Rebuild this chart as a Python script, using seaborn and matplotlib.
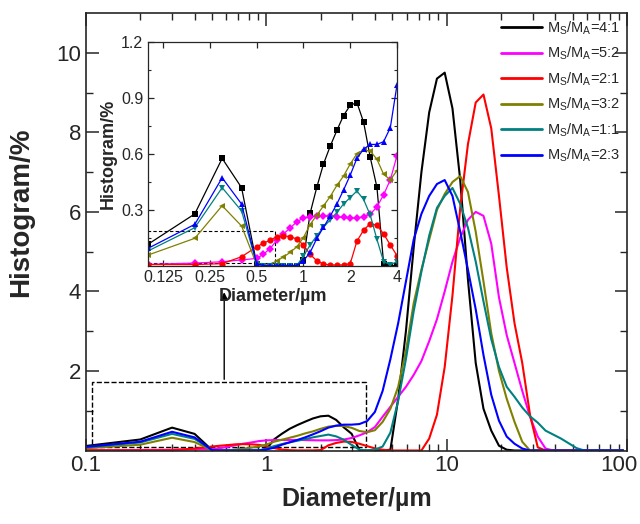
import numpy as np
import pandas as pd
import matplotlib
matplotlib.use("Agg")
import matplotlib.pyplot as plt
import matplotlib.transforms as mtransforms
import seaborn as sns
from matplotlib.patches import Rectangle
from matplotlib.lines import Line2D
from matplotlib.ticker import FixedLocator, FixedFormatter, NullFormatter, NullLocator

# ---------------- data ----------------
diameter = [0.1, 0.2, 0.3, 0.4, 0.5, 0.552, 0.609, 0.673, 0.743, 0.820, 0.906,
            1.0, 1.104, 1.219, 1.346, 1.486, 1.641, 1.811, 2.0, 2.208, 2.438,
            2.692, 2.972, 3.281, 3.623, 4.0, 4.416, 4.876, 5.383, 5.944, 6.562,
            7.245, 8.0, 8.833, 9.752, 10.77, 11.89, 13.12, 14.49, 16.0, 17.67,
            19.50, 21.53, 23.78, 26.25, 28.98, 32.0, 35.33, 39.01, 43.07, 47.56,
            52.51, 57.97, 64.0, 70.66, 78.02, 86.14, 95.1]

ratio_labels = ["4:1", "5:2", "2:1", "3:2", "1:1", "2:3"]

hist_4_1 = [0.114, 0.277, 0.575, 0.418,
            0.01, 0, 0, 0, 0, 0, 0,
            0.03, 0.28, 0.42, 0.545, 0.64, 0.725, 0.805, 0.86, 0.875, 0.77,
            0.58, 0.42, 0.01, 0.0, 0.0,
            0, 0.02, 1.3, 3.0, 5.1, 7.0, 8.5, 9.35, 9.5, 8.6, 6.8, 4.3, 2.2,
            1.05, 0.5, 0.12, 0.02, 0,
            0, 0, 0, 0, 0, 0, 0, 0, 0, 0, 0, 0, 0, 0]

hist_5_2 = [0.006, 0.013, 0.02, 0.03,
            0.038, 0.06, 0.09, 0.135, 0.17, 0.2, 0.235,
            0.255, 0.262, 0.265, 0.265, 0.265, 0.262, 0.258, 0.255, 0.255, 0.262,
            0.275, 0.315, 0.38, 0.46, 0.59,
            0.85, 1.1, 1.35, 1.6, 1.9, 2.25, 2.75, 3.3, 4.0, 4.75, 5.35, 5.8, 6.0,
            5.9, 5.2, 3.85, 2.9, 2.2, 1.5, 0.85, 0.35, 0.05, 0,
            0, 0, 0, 0, 0, 0, 0, 0, 0]

hist_2_1 = [0.005, 0.005, 0.01, 0.047,
            0.10, 0.12, 0.135, 0.155, 0.16, 0.155, 0.142,
            0.11, 0.06, 0.025, 0.008, 0.003, 0.003, 0.003, 0.01, 0.13, 0.19,
            0.225, 0.215, 0.17, 0.11, 0.053,
            0.02, 0, 0, 0, 0, 0, 0.3, 0.9, 2.1, 3.9, 6.1, 7.7, 8.75,
            8.95, 8.1, 6.4, 4.6, 3.2, 2.2, 0.9, 0.08, 0,
            0, 0, 0, 0, 0, 0, 0, 0, 0, 0]

hist_3_2 = [0.056, 0.146, 0.321, 0.212,
            0.005, 0.0, 0.005, 0.025, 0.045, 0.07, 0.10,
            0.15, 0.22, 0.27, 0.32, 0.37, 0.43, 0.48, 0.545, 0.60, 0.62,
            0.615, 0.57, 0.49, 0.46, 0.51,
            0.72, 1.05, 1.6, 2.5, 3.7, 4.55, 5.3, 6.05, 6.45, 6.75, 6.9, 6.5, 5.5,
            4.25, 2.95, 2.0, 1.3, 0.72, 0.22, 0.0,
            0, 0, 0, 0, 0, 0, 0, 0, 0, 0, 0, 0]

hist_1_1 = [0.078, 0.203, 0.418, 0.293,
            0.01, 0, 0, 0, 0, 0, 0.0,
            0.05, 0.11, 0.16, 0.205, 0.245, 0.285, 0.33, 0.365, 0.40, 0.355,
            0.27, 0.14, 0.02, 0.005, 0.02,
            0.1, 0.45, 1.25, 2.3, 3.5, 4.5, 5.4, 6.1, 6.4, 6.6, 6.2, 5.6, 4.75,
            3.75, 2.8, 2.1, 1.6, 1.35, 1.08, 0.86, 0.7, 0.5, 0.4, 0.3, 0.18,
            0.06, 0.0, 0, 0, 0, 0, 0]

hist_2_3 = [0.092, 0.221, 0.471, 0.33,
            0.01, 0, 0, 0, 0, 0, 0,
            0.025, 0.07, 0.145, 0.205, 0.265, 0.33, 0.405, 0.485, 0.575, 0.625,
            0.65, 0.65, 0.665, 0.74, 0.97,
            1.5, 2.3, 3.2, 4.25, 5.3, 5.95, 6.4, 6.7, 6.8, 6.4, 5.5, 4.55, 3.55,
            2.4, 1.4, 0.75, 0.35, 0.17, 0.05, 0,
            0, 0, 0, 0, 0, 0, 0, 0, 0, 0, 0, 0]

series = [hist_4_1, hist_5_2, hist_2_1, hist_3_2, hist_1_1, hist_2_3]
colors = ["#000000", "#FF00FF", "#FF0000", "#808000", "#008080", "#0000FF"]
marker_list = ["s", "D", "o", "<", "v", "^"]

# ---------------- style ----------------
sns.set_style("ticks")
plt.rcParams["font.family"] = ["Liberation Sans", "DejaVu Sans"]
plt.rcParams["mathtext.default"] = "regular"
plt.rcParams["axes.linewidth"] = 1.2

labels = [r"M$_S$/M$_A$=" + r for r in ratio_labels]
df = pd.DataFrame({
    "Diameter": np.tile(diameter, len(series)),
    "Histogram": np.concatenate([np.asarray(s, dtype=float) for s in series]),
    "Sample": np.repeat(labels, len(diameter)),
})

fig = plt.figure(figsize=(6.4, 5.24), dpi=100)

# ---------------- main axes ----------------
ax = fig.add_axes([86 / 640, 1 - 450.5 / 524, (627 - 86) / 640, (450.5 - 13) / 524])
sns.lineplot(data=df, x="Diameter", y="Histogram", hue="Sample", hue_order=labels,
             palette=colors, linewidth=1.5, estimator=None, sort=False,
             legend=False, ax=ax)
ax.set_xscale("log")
ax.set_xlim(0.1, 100)
ax.set_ylim(0, 11)
ax.xaxis.set_major_locator(FixedLocator([0.1, 1, 10, 100]))
ax.xaxis.set_major_formatter(FixedFormatter(["0.1", "1", "10", "100"]))
minors = [m * d for d in (0.1, 1, 10) for m in range(2, 10)]
ax.xaxis.set_minor_locator(FixedLocator(minors))
ax.xaxis.set_minor_formatter(NullFormatter())
ax.yaxis.set_major_locator(FixedLocator([2, 4, 6, 8, 10]))
ax.yaxis.set_minor_locator(FixedLocator([1, 3, 5, 7, 9]))
ax.tick_params(which="both", direction="in", top=True, right=True, labelsize=16)
ax.tick_params(which="major", length=9, width=1.1)
ax.tick_params(which="minor", length=5, width=1.0)
ax.set_xlabel("Diameter/µm", fontsize=18, fontweight="bold", labelpad=8)
ax.set_ylabel("Histogram/%", fontsize=20, fontweight="bold")
ax.yaxis.set_label_coords(-0.095, 0.545)

# keep the "100" label inside the figure, as in the reference
last_tick = ax.xaxis.get_major_ticks()[-1]
last_tick.label1.set_horizontalalignment("right")
last_tick.label1.set_transform(last_tick.label1.get_transform() +
                               mtransforms.ScaledTranslation(10 / 100, 0, fig.dpi_scale_trans))

# dashed zoom box and arrow
ax.add_patch(Rectangle((0.1076, 0.1), 3.58 - 0.1076, 1.62, fill=False,
                       ls="--", lw=1.0, ec="black", zorder=1))
ax.annotate("", xy=(0.584, 4.05), xytext=(0.584, 1.72),
            arrowprops=dict(arrowstyle="-|>", color="black", lw=1.0,
                            mutation_scale=11))

handles = [Line2D([], [], color=c, lw=2) for c in colors]
ax.legend(handles, labels, loc="upper right", frameon=False, fontsize=10.5,
          handlelength=2.8, handletextpad=0.35, labelspacing=0.55,
          borderaxespad=0.05)

# ---------------- inset ----------------
axin = fig.add_axes([148 / 640, 1 - 265.5 / 524, 249 / 640, 223.5 / 524])
df_in = df[df["Diameter"] <= 4.0]
sns.lineplot(data=df_in, x="Diameter", y="Histogram", hue="Sample",
             hue_order=labels, palette=colors, style="Sample", style_order=labels,
             markers=dict(zip(labels, marker_list)), dashes=False,
             linewidth=0.9, markersize=4.5, markeredgewidth=0,
             estimator=None, sort=False, legend=False, ax=axin)
axin.set_xscale("log", base=2)
axin.set_xlim(0.1, 4)
axin.set_ylim(0, 1.2)
axin.xaxis.set_major_locator(FixedLocator([0.125, 0.25, 0.5, 1, 2, 4]))
axin.xaxis.set_major_formatter(FixedFormatter(["0.125", "0.25", "0.5", "1", "2", "4"]))
axin.xaxis.set_minor_locator(NullLocator())
axin.yaxis.set_major_locator(FixedLocator([0.3, 0.6, 0.9, 1.2]))
axin.yaxis.set_major_formatter(FixedFormatter(["0.3", "0.6", "0.9", "1.2"]))
axin.yaxis.set_minor_locator(FixedLocator([0.15, 0.45, 0.75, 1.05]))
axin.tick_params(which="both", direction="in", top=True, right=True, labelsize=11.5)
axin.tick_params(which="major", length=4, width=0.9)
axin.tick_params(which="minor", length=2.5, width=0.8)
for sp in axin.spines.values():
    sp.set_linewidth(0.9)
axin.spines["top"].set_linestyle((0, (1, 1)))
axin.set_xlabel("Diameter/µm", fontsize=13, fontweight="bold", labelpad=2)
axin.set_ylabel("Histogram/%", fontsize=13, fontweight="bold", labelpad=3)
axin.add_patch(Rectangle((0.1, 0.012), 0.66 - 0.1, 0.185 - 0.012, fill=False,
                         ls=(0, (3, 2)), lw=0.8, ec="black", zorder=1))

fig.savefig("out.png", dpi=100)
